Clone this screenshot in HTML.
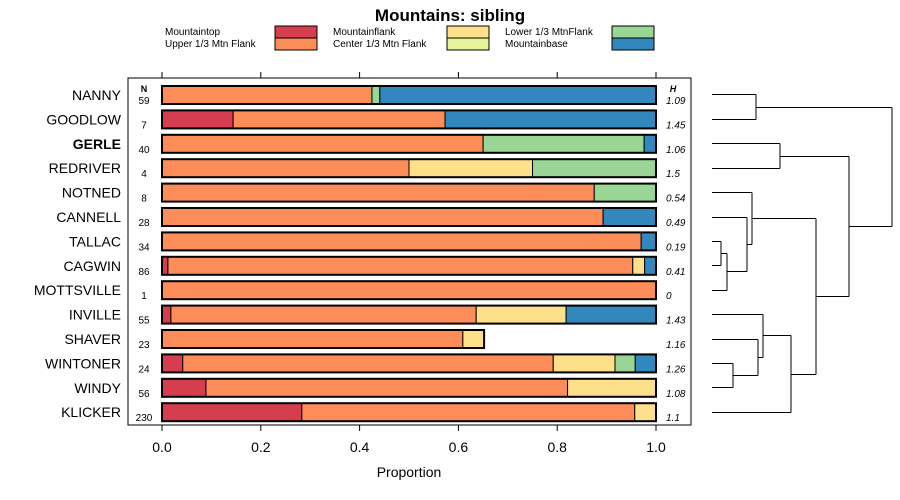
<!DOCTYPE html>
<html><head><meta charset="utf-8"><style>
body{margin:0;background:#fff}
svg{display:block;font-family:"Liberation Sans",sans-serif}
</style></head><body>
<svg id="c" width="900" height="500">
<text x="450" y="21" text-anchor="middle" font-size="17" font-weight="bold">Mountains: sibling</text>
<g id="legend"></g>
<rect x="128" y="78" width="563" height="347" fill="none" stroke="#000"/>
<g id="bars"></g>
<g id="axis"></g>
<text x="409" y="477" text-anchor="middle" font-size="14">Proportion</text>
<text x="144" y="92" text-anchor="middle" font-size="9" font-weight="bold">N</text>
<text x="673" y="92" text-anchor="middle" font-size="9" font-weight="bold" font-style="italic">H</text>
<g id="dendro" stroke="#000" fill="none" stroke-width="1"></g>
</svg>
<script>
const categories=["NANNY","GOODLOW","GERLE","REDRIVER","NOTNED","CANNELL","TALLAC","CAGWIN","MOTTSVILLE","INVILLE","SHAVER","WINTONER","WINDY","KLICKER"];
const nValues=[59,7,40,4,8,28,34,86,1,55,23,24,56,230];
const hValues=["1.09","1.45","1.06","1.5","0.54","0.49","0.19","0.41","0","1.43","1.16","1.26","1.08","1.1"];
const seriesNames=["Mountaintop","Upper 1/3 Mtn Flank","Mountainflank","Center 1/3 Mtn Flank","Lower 1/3 MtnFlank","Mountainbase"];
const mountaintop=[0,0.144,0,0,0,0,0,0.012,0,0.018,0,0.042,0.089,0.283];
const upperFlank=[0.425,0.429,0.65,0.5,0.875,0.893,0.97,0.941,1,0.618,0.609,0.75,0.732,0.674];
const mountainflank=[0,0,0,0.25,0,0,0,0.024,0,0.182,0.043,0.125,0.179,0.043];
const centerFlank=[0,0,0,0,0,0,0,0,0,0,0,0,0,0];
const lowerFlank=[0.016,0,0.326,0.25,0.125,0,0,0,0,0,0,0.041,0,0];
const mountainbase=[0.559,0.427,0.024,0,0,0.107,0.03,0.023,0,0.182,0,0.042,0,0];
const tickValues=[0,0.2,0.4,0.6,0.8,1.0];
const tickLabels=["0.0","0.2","0.4","0.6","0.8","1.0"];
const colors=["#D53E4F","#FC8D59","#FEE08B","#E6F598","#99D594","#3288BD"];
const NS="http://www.w3.org/2000/svg";
const xS=v=>162+494*v;
const yS=i=>95+i*24.4;
function mk(p,t,a){const e=document.createElementNS(NS,t);for(const k in a)e.setAttribute(k,a[k]);p.appendChild(e);return e;}
const series=[mountaintop,upperFlank,mountainflank,centerFlank,lowerFlank,mountainbase];
const bars=document.getElementById('bars');
categories.forEach((c,i)=>{
  const y=yS(i);
  const lab=mk(bars,'text',{x:121,y:y+5,'text-anchor':'end','font-size':14,'font-weight':c==="GERLE"?'bold':'normal'});lab.textContent=c;
  
  
  const n=mk(bars,'text',{x:144,y:y+9,'text-anchor':'middle','font-size':10});n.textContent=nValues[i];
  
  
  const h=mk(bars,'text',{x:666,y:y+9,'font-size':10,'font-style':'italic'});h.textContent=hValues[i];
  
  
  let cum=0;
  series.forEach((s,k)=>{const v=s[i];if(v>0){const r=mk(bars,'rect',{x:xS(cum),y:y-9,width:xS(cum+v)-xS(cum),height:18,fill:colors[k],stroke:'#000','stroke-width':1});
    
    }cum+=v;});
  const o=mk(bars,'rect',{x:xS(0),y:y-9,width:xS(cum)-xS(0),height:18,fill:'none',stroke:'#000','stroke-width':2});
  
  
});
const ax=document.getElementById('axis');
tickValues.forEach((t,i)=>{const x=xS(t);
  mk(ax,'line',{x1:x,x2:x,y1:425,y2:431,stroke:'#000'});
  mk(ax,'line',{x1:x,x2:x,y1:72,y2:78,stroke:'#000'});
  const tl=mk(ax,'text',{x:x,y:452,'text-anchor':'middle','font-size':14});tl.textContent=tickLabels[i];
  
  
});
const lg=document.getElementById('legend');
const lpos=[[165,37,275],[165,49,275],[333,37,447],[333,49,447],[505,37,612],[505,49,612]];
seriesNames.forEach((s,k)=>{const p=lpos[k];
  const t=mk(lg,'text',{x:p[0],y:p[1]-2,'font-size':10});t.textContent=s;
  
  
  mk(lg,'rect',{x:p[2],y:p[1]-11,width:42,height:12,fill:colors[k],stroke:'#000'});
});
const dg=document.getElementById('dendro');
const seg=[[712,94,756,94],[712,119,756,119],[756,94,756,119],[756,107,892,107],
[712,143,780,143],[712,168,780,168],[780,143,780,168],[780,156,849,156],
[712,241,721,241],[712,265,721,265],[721,241,721,265],[721,253,727,253],[712,290,727,290],[727,253,727,290],[727,271,747,271],
[712,217,747,217],[747,217,747,271],[747,244,752,244],[712,192,752,192],[752,192,752,244],[752,218,816,218],
[712,363,733,363],[712,387,733,387],[733,363,733,387],[733,375,758,375],[712,339,758,339],[758,339,758,375],[758,357,763,357],
[712,314,763,314],[763,314,763,357],[763,335,791,335],[712,412,791,412],[791,335,791,412],[791,374,816,374],
[816,218,816,374],[816,296,849,296],[849,156,849,296],[849,226,892,226],[892,107,892,226]];
seg.forEach(s=>mk(dg,'line',{x1:s[0],y1:s[1]+0.5,x2:s[2],y2:s[3]+0.5}));
</script>
</body></html>
